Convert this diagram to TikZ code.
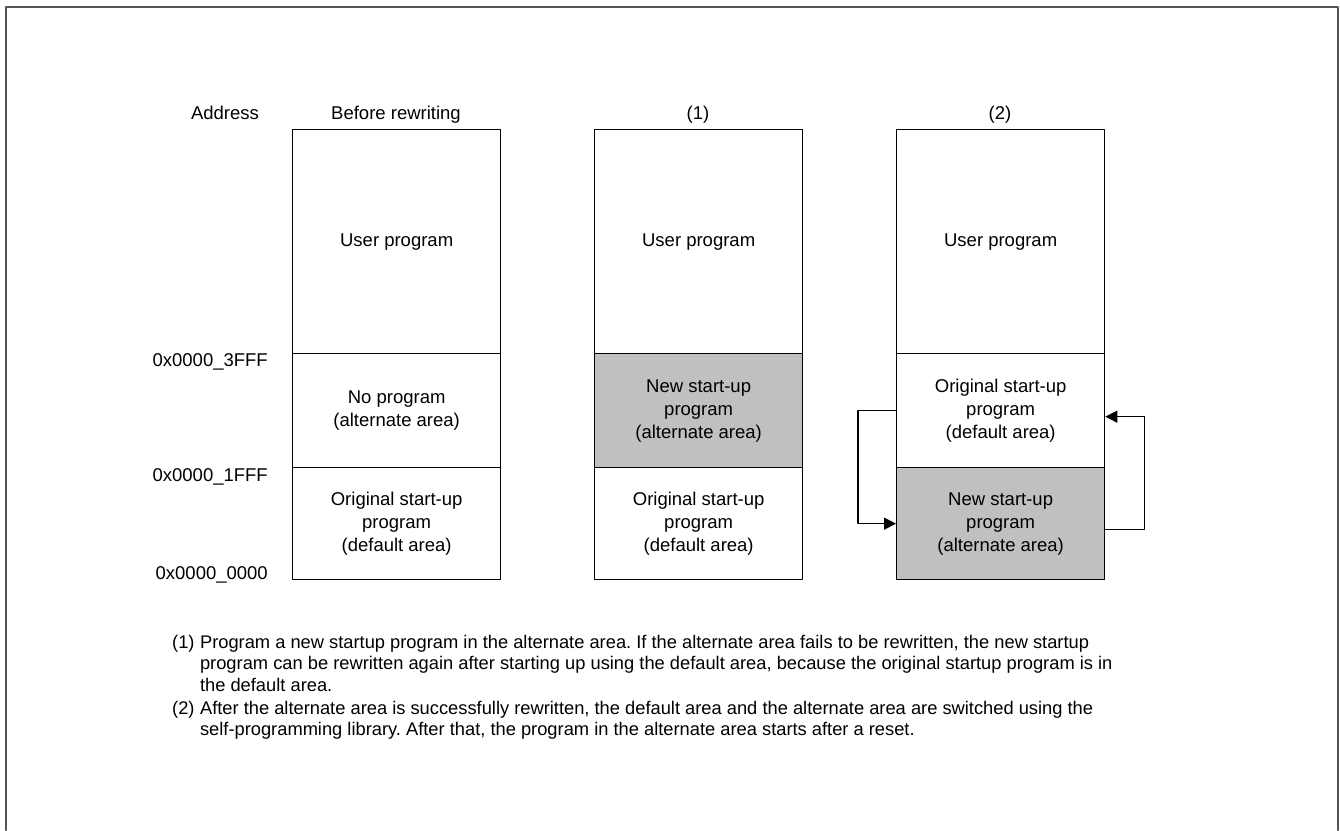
\documentclass[tikz,border=0pt]{standalone}
\usepackage{fontspec}
\setmainfont{Liberation Sans}
\usetikzlibrary{arrows.meta}
\definecolor{cellgray}{RGB}{192,192,192}
\definecolor{framegray}{RGB}{85,85,85}

\tikzset{
  cell/.style={draw,line width=1.3pt,minimum width=208pt,align=center,inner sep=0pt,
    anchor=north west,font=\fontsize{18.5}{23}\selectfont},
  newcell/.style={cell,fill=cellgray},
  head/.style={anchor=base,inner sep=0pt,font=\fontsize{18.5}{23}\selectfont},
  addr/.style={anchor=base east,inner sep=0pt,font=\fontsize{18.5}{23}\selectfont},
  note/.style={inner sep=0pt,align=left,font=\fontsize{18.3}{21.8}\selectfont},
  flow/.style={line width=1.3pt,-{Triangle[length=12pt,width=12pt]}}
}

\begin{document}
\frenchspacing
\begin{tikzpicture}[x=1pt,y=-1pt,line cap=round,line join=round]
    \path[use as bounding box] (0,0) rectangle (1340,830);

    % outer frame, open at the bottom
    \draw[framegray,line width=2.2pt] (6,830) -- (6,7) -- (1338,7) -- (1338,830);

    % headers
    \node[head] (haddr) at (225,119) {Address};
    \node[head] (hbefore) at (396,119) {Before rewriting};
    \node[head] (hone) at (698,119) {(1)};
    \node[head] (htwo) at (1000,119) {(2)};

    % before rewriting
    \node[cell,minimum height=224pt] (c1user) at (292,129) {User program};
    \node[cell,minimum height=114pt] (c1mid) at (292,353) {No program\\(alternate area)};
    \node[cell,minimum height=112pt] (c1low) at (292,467) {Original start-up\\program\\(default area)};

    % (1)
    \node[cell,minimum height=224pt] (c2user) at (594,129) {User program};
    \node[newcell,minimum height=114pt] (c2mid) at (594,353) {New start-up\\program\\(alternate area)};
    \node[cell,minimum height=112pt] (c2low) at (594,467) {Original start-up\\program\\(default area)};

    % (2)
    \node[cell,minimum height=224pt] (c3user) at (896,129) {User program};
    \node[cell,minimum height=114pt] (c3mid) at (896,353) {Original start-up\\program\\(default area)};
    \node[newcell,minimum height=112pt] (c3low) at (896,467) {New start-up\\program\\(alternate area)};

    % addresses
    \node[addr] (a3fff) at (268,366) {0x0000\_3FFF};
    \node[addr] (a1fff) at (268,481) {0x0000\_1FFF};
    \node[addr] (a0000) at (268,579) {0x0000\_0000};

    % area swap
    \draw[flow] (c3mid.west) -- ++(-38,0) |- (c3low.west);
    \draw[flow] ([yshift=-6pt]c3low.east) -- ++(39,0) |- ([yshift=-6pt]c3mid.east);

    % notes
    \node[note,anchor=base west] (l1) at (172,648) {(1)};
    \node[note,anchor=north west] (n1) at (l1.north east) {\ Program a new startup program in the alternate area. If the alternate area fails to be rewritten, the new startup\\
      \ program can be rewritten again after starting up using the default area, because the original startup program is in\\
      \ the default area.};
    \node[note,anchor=base west] (l2) at (172,714) {(2)};
    \node[note,anchor=north west] (n2) at (l2.north east) {\ After the alternate area is successfully rewritten, the default area and the alternate area are switched using the\\
      \ self-programming library. After that, the program in the alternate area starts after a reset.};
\end{tikzpicture}
\end{document}
